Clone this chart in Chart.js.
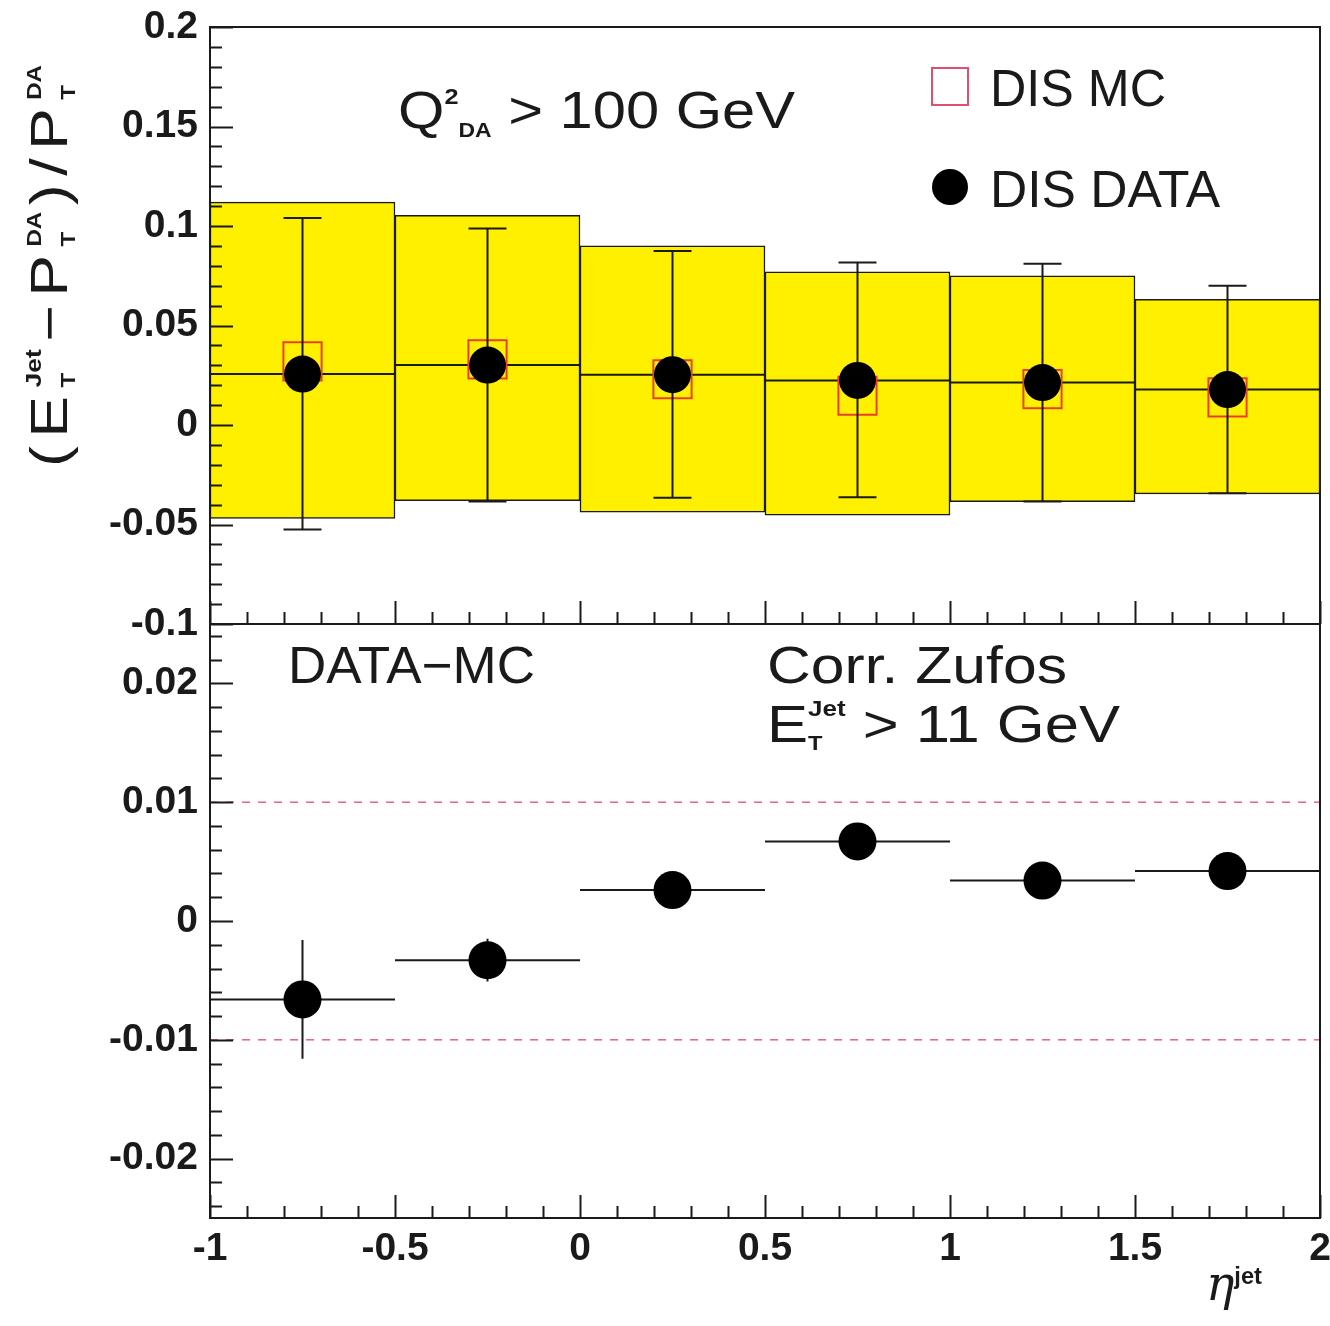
<!DOCTYPE html>
<html>
<head>
<meta charset="utf-8">
<script src="https://cdn.jsdelivr.net/npm/chart.js@4.4.1/dist/chart.umd.min.js"></script>
<style>
  body { margin: 0; background: #fff; }
  #wrap { position: relative; width: 1330px; height: 1326px; }
  #wrap canvas { position: absolute; left: 0; top: 0; }
</style>
</head>
<body>
<div id="wrap">
  <canvas id="bottomChart" width="1330" height="1326"></canvas>
  <canvas id="topChart" width="1330" height="1326"></canvas>
</div>
<script>
//-------------------Data-------------------
// eta(jet) bins
const etaLow  = [-1, -0.5, 0, 0.5, 1, 1.5];
const etaHigh = [-0.5, 0, 0.5, 1, 1.5, 2];
const etaMid  = [-0.75, -0.25, 0.25, 0.75, 1.25, 1.75];

// upper panel: (E_T - P_T)/P_T
const dataRatio = [0.0256, 0.0301, 0.0253, 0.0224, 0.0213, 0.0178];
const mcRatio   = [0.032, 0.033, 0.023, 0.0147, 0.018, 0.0139];
const bandLow   = [-0.047, -0.038, -0.0438, -0.0453, -0.0385, -0.0346];
const bandHigh  = [0.112, 0.1054, 0.090, 0.077, 0.075, 0.0632];
const errLow    = [-0.0525, -0.0385, -0.0366, -0.0363, -0.0385, -0.0343];
const errHigh   = [0.104, 0.0988, 0.0875, 0.0816, 0.081, 0.070];

// lower panel: DATA - MC
const diff    = [-0.0066, -0.0033, 0.0026, 0.0067, 0.0034, 0.0042];
const diffErr = [0.0050, 0.0018, 0.0012, 0.0012, 0.0012, 0.0012];
const diffBand = [-0.01, 0.01];

// tick labels
const xTicks      = [-1, -0.5, 0, 0.5, 1, 1.5, 2];
const topYTicks   = [-0.1, -0.05, 0, 0.05, 0.1, 0.15, 0.2];
const lowerYTicks = [-0.02, -0.01, 0, 0.01, 0.02];

//-------------------Helpers-------------------
const INK = '#1a1a1a';
const SANS = '"Liberation Sans", Arial, sans-serif';
const R52 = '52px ' + SANS;
const SUB = 'bold 20px ' + SANS;
const SUP = 'bold 22px ' + SANS;

// draws a row of text runs (sub/superscripts), fitted to the given width
function drawRuns(ctx, runs, x, y, width, angle) {
  let cursor = 0, lastStart = 0;
  const placed = [];
  runs.forEach(r => {
    ctx.font = r.f;
    ctx.letterSpacing = r.ls || '0px';
    const w = ctx.measureText(r.t).width;
    const start = r.back ? lastStart : cursor;
    placed.push({ r: r, start: start });
    lastStart = start;
    cursor = Math.max(cursor, start + w);
  });
  ctx.save();
  ctx.translate(x, y);
  if (angle) ctx.rotate(angle);
  if (width) ctx.scale(width / cursor, 1);
  ctx.fillStyle = INK;
  ctx.textAlign = 'left';
  ctx.textBaseline = 'alphabetic';
  placed.forEach(p => {
    ctx.font = p.r.f;
    ctx.letterSpacing = p.r.ls || '0px';
    ctx.fillText(p.r.t, p.start, p.r.dy || 0);
  });
  ctx.restore();
  ctx.letterSpacing = '0px';
}

function fmt(v) {
  return String(+v.toFixed(3));
}

function noScalePadding(s) {
  s.paddingTop = 0; s.paddingBottom = 0; s.paddingLeft = 0; s.paddingRight = 0;
}

// frame + inward ticks (ROOT style)
const frameTicks = {
  id: 'frameTicks',
  afterDraw(chart, args, o) {
    const { ctx, chartArea: a, scales } = chart;
    ctx.save();
    ctx.strokeStyle = INK;
    ctx.lineWidth = 2;
    ctx.beginPath();
    // y ticks on left edge
    let start = Math.ceil(scales.y.min / o.yMinor - 1e-6);
    let end = Math.floor(scales.y.max / o.yMinor + 1e-6);
    for (let i = start; i <= end; i++) {
      const v = i * o.yMinor;
      const major = Math.abs(v / o.yMajor - Math.round(v / o.yMajor)) < 1e-6;
      const py = Math.round(scales.y.getPixelForValue(v)) + 0.5;
      ctx.moveTo(a.left, py);
      ctx.lineTo(a.left + (major ? 23 : 12), py);
    }
    // x ticks on bottom edge
    start = Math.ceil(scales.x.min / o.xMinor - 1e-6);
    end = Math.floor(scales.x.max / o.xMinor + 1e-6);
    for (let i = start; i <= end; i++) {
      const v = i * o.xMinor;
      const major = Math.abs(v / o.xMajor - Math.round(v / o.xMajor)) < 1e-6;
      const px = Math.round(scales.x.getPixelForValue(v)) + 0.5;
      ctx.moveTo(px, a.bottom);
      ctx.lineTo(px, a.bottom - (major ? 23 : 12));
    }
    ctx.stroke();
    ctx.strokeRect(a.left, a.top, a.right - a.left, a.bottom - a.top);
    ctx.restore();
  }
};

// error bars drawn right before the dataset with that role
const errorBars = {
  id: 'errorBars',
  beforeDatasetDraw(chart, args) {
    const role = chart.data.datasets[args.index].role;
    const { ctx, scales: { x, y } } = chart;
    ctx.save();
    ctx.strokeStyle = INK;
    ctx.lineWidth = 2;
    ctx.beginPath();
    if (role === 'mc') {
      // central value line across each bin
      etaMid.forEach((m, i) => {
        const py = y.getPixelForValue(dataRatio[i]);
        ctx.moveTo(x.getPixelForValue(etaLow[i]), py);
        ctx.lineTo(x.getPixelForValue(etaHigh[i]), py);
      });
    } else if (role === 'data') {
      etaMid.forEach((m, i) => {
        const px = x.getPixelForValue(m);
        const y1 = y.getPixelForValue(errLow[i]);
        const y2 = y.getPixelForValue(errHigh[i]);
        ctx.moveTo(px, y1); ctx.lineTo(px, y2);
        ctx.moveTo(px - 19, y1); ctx.lineTo(px + 19, y1);
        ctx.moveTo(px - 19, y2); ctx.lineTo(px + 19, y2);
      });
    } else if (role === 'diff') {
      etaMid.forEach((m, i) => {
        const px = x.getPixelForValue(m);
        const py = y.getPixelForValue(diff[i]);
        ctx.moveTo(x.getPixelForValue(etaLow[i]), py);
        ctx.lineTo(x.getPixelForValue(etaHigh[i]), py);
        ctx.moveTo(px, y.getPixelForValue(diff[i] - diffErr[i]));
        ctx.lineTo(px, y.getPixelForValue(diff[i] + diffErr[i]));
      });
    }
    ctx.stroke();
    ctx.restore();
  }
};

const topNotes = {
  id: 'topNotes',
  afterDraw(chart) {
    const ctx = chart.ctx;
    const ds = chart.data.datasets;
    drawRuns(ctx, [
      { t: 'Q', f: R52 },
      { t: '2', f: SUP, dy: -24 },
      { t: 'DA', f: SUB, dy: 9 },
      { t: ' > 100 GeV', f: R52 }
    ], 398, 128, 397);
    // legend
    ctx.save();
    ctx.strokeStyle = '#e0506e';
    ctx.lineWidth = 2;
    ctx.strokeRect(932, 68, 36, 37);
    ctx.fillStyle = '#000';
    ctx.beginPath();
    ctx.arc(950, 187, 18, 0, Math.PI * 2);
    ctx.fill();
    ctx.restore();
    drawRuns(ctx, [{ t: ds.find(d => d.role === 'mc').label, f: R52 }], 990, 106, 176);
    drawRuns(ctx, [{ t: ds.find(d => d.role === 'data').label, f: R52 }], 990, 207, 230);
    // y axis title
    const T = '52px ' + SANS, LS = '7px';
    drawRuns(ctx, [
      { t: '(', f: T, ls: LS },
      { t: 'E', f: T, ls: LS },
      { t: 'T', f: SUB, dy: 8 },
      { t: 'Jet ', f: SUP, dy: -26, back: true },
      { t: '\u2212P', f: T, ls: LS },
      { t: 'T', f: SUB, dy: 8 },
      { t: 'DA ', f: SUB, dy: -26, back: true },
      { t: ')/P', f: T, ls: LS },
      { t: 'T', f: SUB, dy: 8 },
      { t: 'DA', f: SUB, dy: -26, back: true }
    ], 67, 467, 402, -Math.PI / 2);
  }
};

const bottomNotes = {
  id: 'bottomNotes',
  afterDraw(chart) {
    const ctx = chart.ctx;
    drawRuns(ctx, [{ t: 'DATA\u2212MC', f: R52 }], 288, 683, 247);
    drawRuns(ctx, [{ t: 'Corr. Zufos', f: R52 }], 767, 683, 300);
    drawRuns(ctx, [
      { t: 'E', f: R52 },
      { t: 'T', f: SUB, dy: 8 },
      { t: 'Jet', f: SUP, dy: -26, back: true },
      { t: ' > 11 GeV', f: R52 }
    ], 767, 742, 353);
    drawRuns(ctx, [
      { t: '\u03b7', f: 'italic 48px "DejaVu Serif", serif' },
      { t: 'jet', f: 'bold 24px ' + SANS, dy: -16 }
    ], 1206, 1300, 56);
  }
};

//-------------------Charts-------------------
Chart.defaults.animation = false;
Chart.defaults.events = [];
Chart.defaults.color = INK;

const tickFont = { family: SANS, size: 39, weight: 'bold' };

function yAxis(min, max, ticks) {
  return {
    type: 'linear',
    min: min,
    max: max,
    afterBuildTicks: s => { s.ticks = ticks.map(v => ({ value: v })); },
    afterFit: s => { s.width = 210; noScalePadding(s); },
    ticks: { font: tickFont, color: INK, padding: 12, autoSkip: false, callback: v => fmt(v) },
    grid: { display: false, drawTicks: false },
    border: { display: false }
  };
}

new Chart(document.getElementById('topChart'), {
  type: 'bar',
  data: {
    datasets: [
      {
        type: 'scatter',
        role: 'data',
        label: 'DIS DATA',
        data: etaMid.map((m, i) => ({ x: m, y: dataRatio[i] })),
        pointStyle: 'circle',
        pointRadius: 18.5,
        backgroundColor: '#000',
        borderWidth: 0,
        order: 1
      },
      {
        type: 'scatter',
        role: 'mc',
        label: 'DIS MC',
        data: etaMid.map((m, i) => ({ x: m, y: mcRatio[i] })),
        pointStyle: 'rect',
        pointRadius: 27,
        backgroundColor: 'rgba(0,0,0,0)',
        borderColor: '#e8402a',
        borderWidth: 2,
        order: 2
      },
      {
        role: 'band',
        label: 'band',
        data: etaMid.map((m, i) => ({ x: m, y: [bandLow[i], bandHigh[i]] })),
        backgroundColor: '#fff000',
        borderColor: INK,
        borderWidth: 1.5,
        borderSkipped: false,
        barPercentage: 1,
        categoryPercentage: 1,
        order: 3
      }
    ]
  },
  options: {
    responsive: false,
    layout: { autoPadding: false, padding: { left: 0, right: 10, top: 27, bottom: 1326 - 624 } },
    plugins: {
      legend: { display: false },
      tooltip: { enabled: false },
      frameTicks: { xMinor: 0.1, xMajor: 0.5, yMinor: 0.01, yMajor: 0.05 }
    },
    scales: {
      x: {
        type: 'linear',
        display: false,
        offset: false,
        min: -1,
        max: 2,
        afterBuildTicks: s => { s.ticks = xTicks.map(v => ({ value: v })); },
        afterFit: noScalePadding,
        grid: { offset: false }
      },
      y: yAxis(-0.1, 0.2, topYTicks)
    }
  },
  plugins: [frameTicks, errorBars, topNotes]
});

new Chart(document.getElementById('bottomChart'), {
  type: 'scatter',
  data: {
    datasets: [
      {
        role: 'diff',
        label: 'DATA-MC',
        data: etaMid.map((m, i) => ({ x: m, y: diff[i] })),
        pointStyle: 'circle',
        pointRadius: 19,
        backgroundColor: '#000',
        borderWidth: 0,
        order: 1
      },
      ...diffBand.map(b => ({
        type: 'line',
        role: 'limit',
        label: 'limit',
        data: [{ x: xTicks[0], y: b }, { x: xTicks[xTicks.length - 1], y: b }],
        borderColor: 'rgba(228, 70, 110, 0.85)',
        borderWidth: 1.5,
        borderDash: [8, 8],
        pointRadius: 0,
        order: 3
      }))
    ]
  },
  options: {
    responsive: false,
    layout: { autoPadding: false, padding: { left: 0, right: 10, top: 624, bottom: 0 } },
    plugins: {
      legend: { display: false },
      tooltip: { enabled: false },
      frameTicks: { xMinor: 0.1, xMajor: 0.5, yMinor: 0.002, yMajor: 0.01 }
    },
    scales: {
      x: {
        type: 'linear',
        min: -1,
        max: 2,
        afterBuildTicks: s => { s.ticks = xTicks.map(v => ({ value: v })); },
        afterFit: s => { s.height = 1326 - 1218; noScalePadding(s); },
        ticks: { font: tickFont, color: INK, padding: 8, autoSkip: false, maxRotation: 0, callback: v => fmt(v) },
        grid: { display: false, drawTicks: false },
        border: { display: false }
      },
      y: yAxis(-0.025, 0.025, lowerYTicks)
    }
  },
  plugins: [frameTicks, errorBars, bottomNotes]
});
</script>
</body>
</html>
